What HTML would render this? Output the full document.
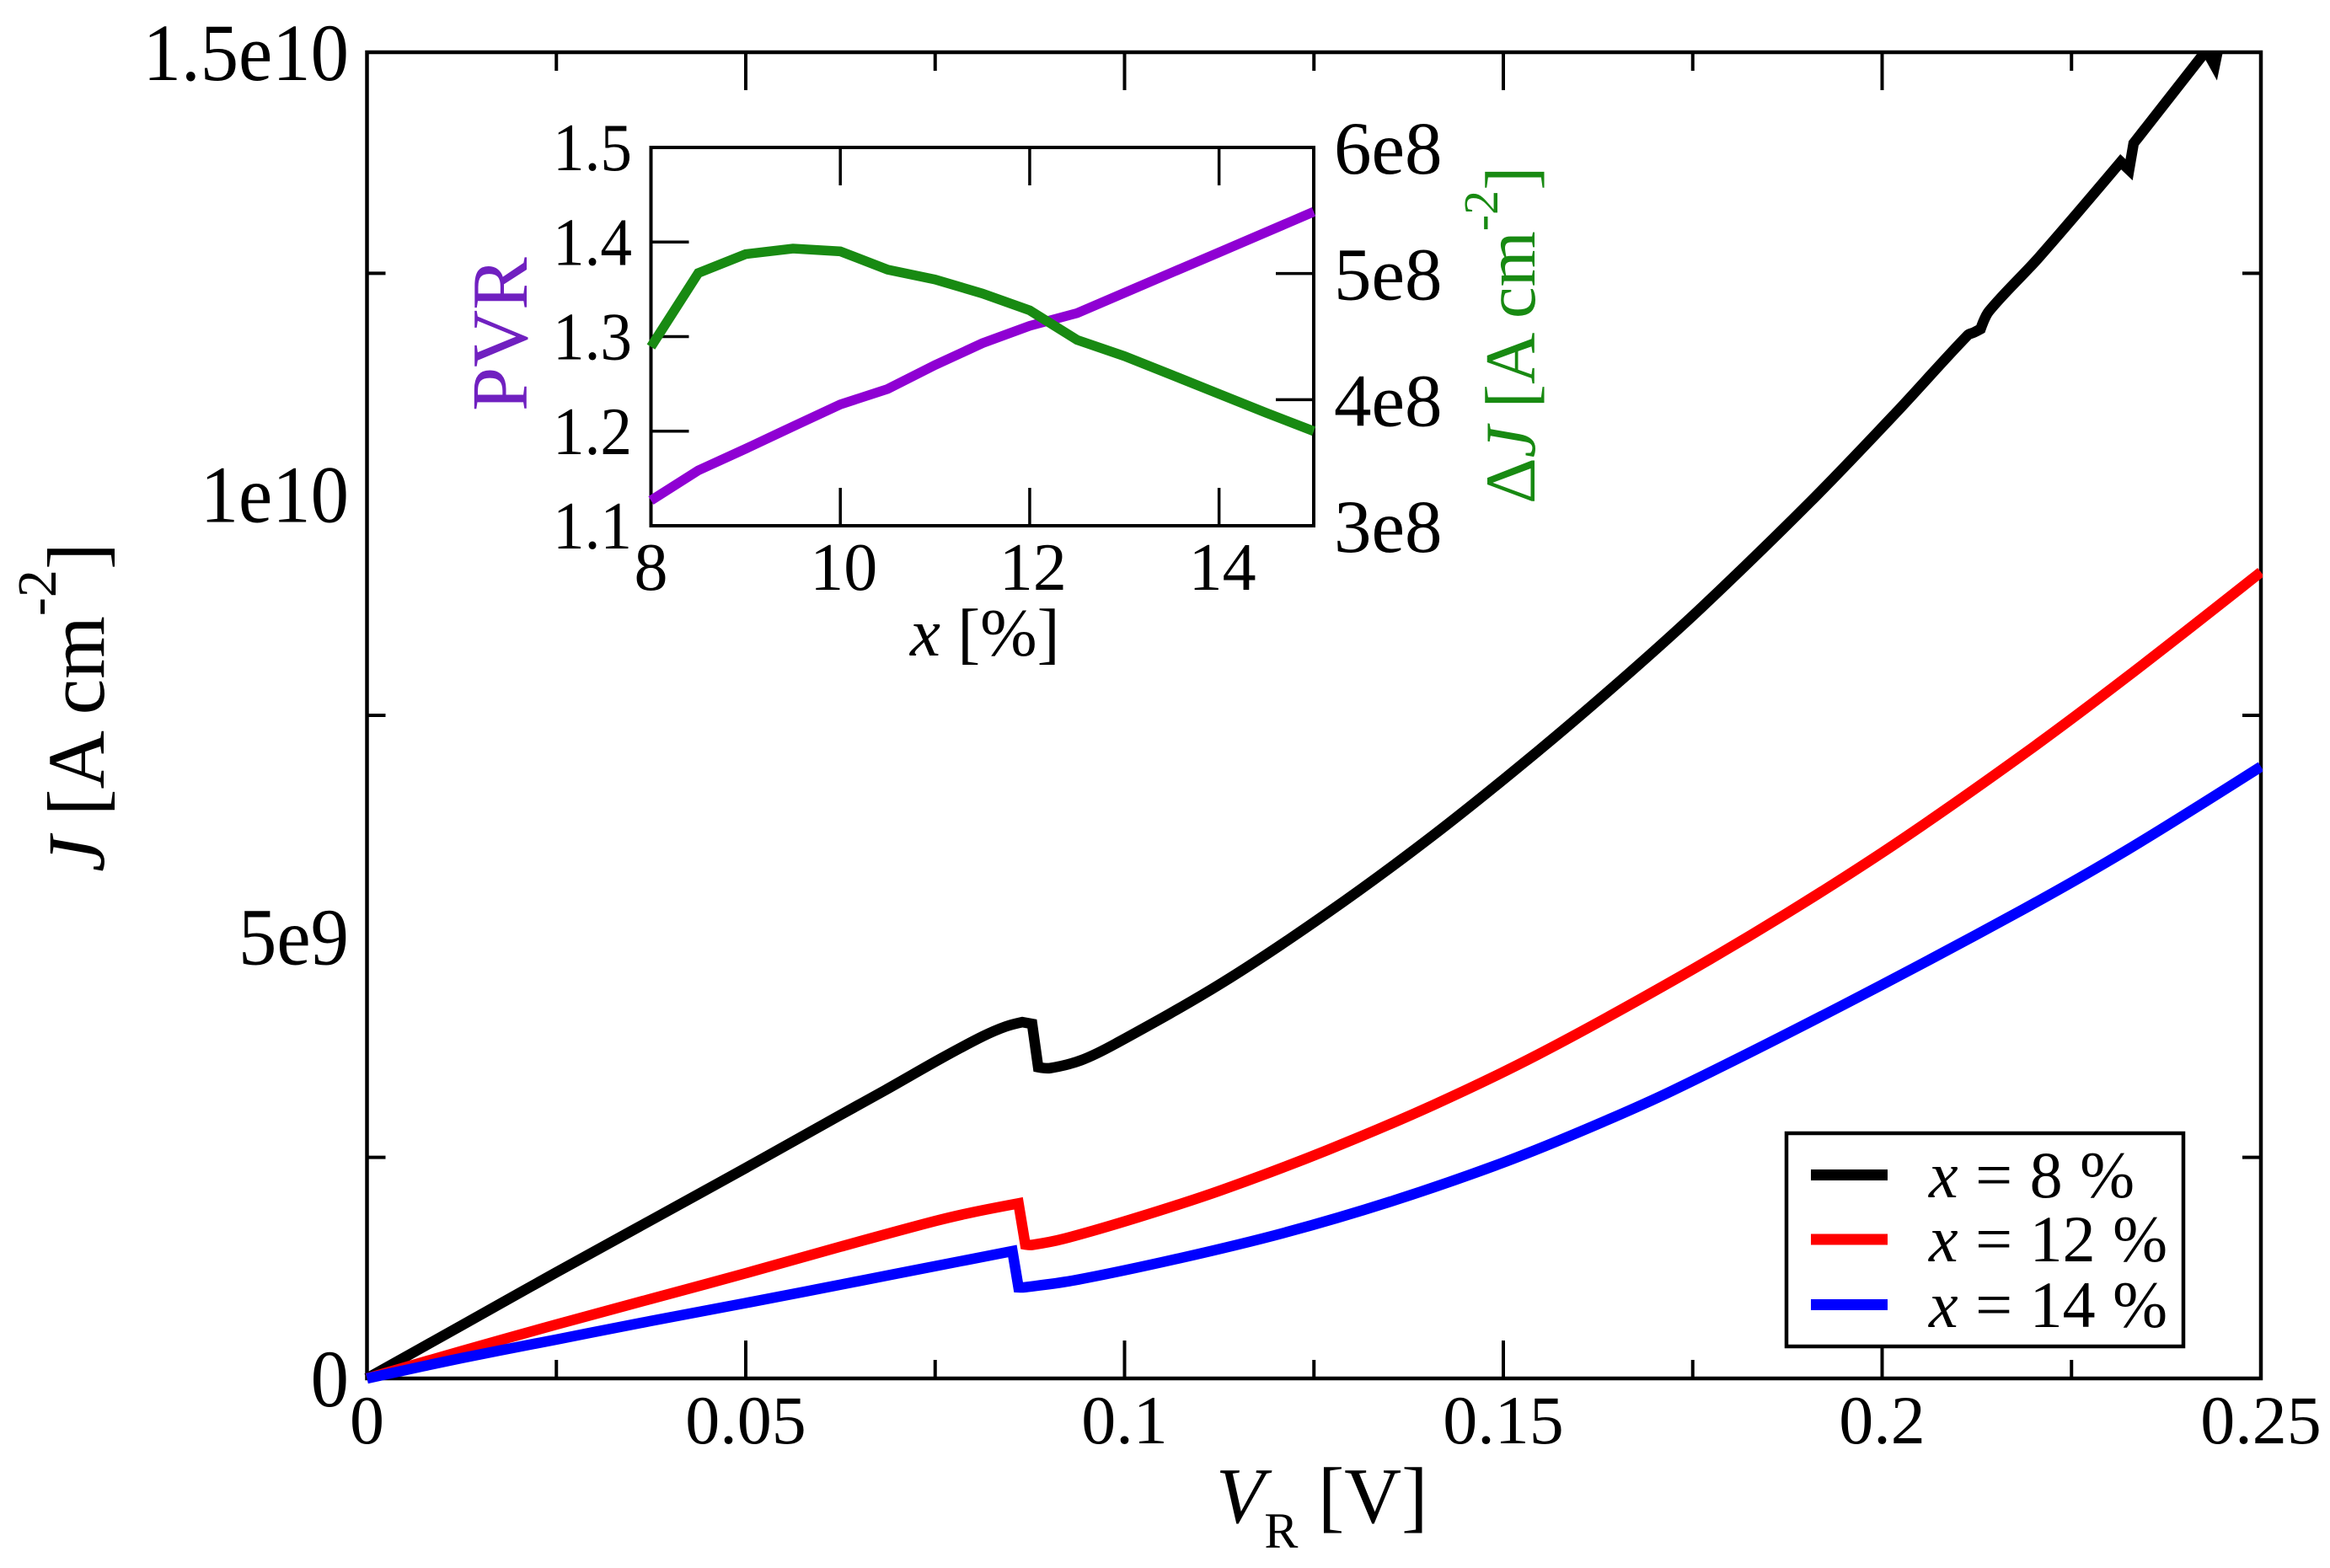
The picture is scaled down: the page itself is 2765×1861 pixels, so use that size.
<!DOCTYPE html>
<html lang="en">
<head>
<meta charset="utf-8">
<title>Current density versus voltage</title>
<style>
html,body{margin:0;padding:0;background:#fff;}
svg{display:block;}
text{font-family:"Liberation Serif",serif;fill:#000;}
</style>
</head>
<body>
<svg id="chart" xmlns="http://www.w3.org/2000/svg" width="2765" height="1861" viewBox="0 0 2765 1861">
  <defs>
    <clipPath id="main-clip"><rect x="400" y="60" width="2285" height="1620"/></clipPath>
  </defs>
  <rect x="0" y="0" width="2765" height="1861" fill="#ffffff"/>
  <g id="main-axes"></g>
  <g id="main-series" clip-path="url(#main-clip)"></g>
  <g id="inset-axes"></g>
  <g id="inset-series"></g>

  <text x="1443" y="1807" font-size="94"><tspan font-style="italic">V</tspan><tspan font-size="60" dy="30">R</tspan><tspan dy="-30"> [V]</tspan></text>
  <text transform="translate(123,1035) rotate(-90)" font-size="96"><tspan font-style="italic">J</tspan> [A cm<tspan font-size="66" dy="-57">-2</tspan><tspan dy="57">]</tspan></text>

  <text x="1080" y="778" font-size="81"><tspan font-style="italic">x</tspan> [%]</text>
  <text transform="translate(625,488) rotate(-90)" font-size="94" style="fill:#7020c0">PVR</text>
  <text transform="translate(1821,598) rotate(-90)" font-size="85" style="fill:#188a12">Δ<tspan font-style="italic">J</tspan> [A cm<tspan font-size="58" dy="-44">-2</tspan><tspan dy="44">]</tspan></text>

  <g>
    <rect x="2120" y="1345" width="471" height="253" fill="#ffffff" stroke="#000" stroke-width="4.5"/>
    <line x1="2149" x2="2240" y1="1394.5" y2="1394.5" stroke="#000" stroke-width="13"/>
    <line x1="2149" x2="2240" y1="1471" y2="1471" stroke="#ff0000" stroke-width="13"/>
    <line x1="2149" x2="2240" y1="1548.5" y2="1548.5" stroke="#0000ff" stroke-width="13"/>
    <text x="2289" y="1421" font-size="78" word-spacing="1"><tspan font-style="italic">x</tspan> = 8 %</text>
    <text x="2289" y="1497" font-size="78" word-spacing="1"><tspan font-style="italic">x</tspan> = 12 %</text>
    <text x="2289" y="1575" font-size="78" word-spacing="1"><tspan font-style="italic">x</tspan> = 14 %</text>
  </g>
</svg>

<script>
// Main chart data: voltage in V, current density in units of 1e9 A/cm^2
var xMajorTicks = [0, 0.05, 0.1, 0.15, 0.2, 0.25];
var xMajorLabels = ["0", "0.05", "0.1", "0.15", "0.2", "0.25"];
var xMinorTicks = [0.025, 0.075, 0.125, 0.175, 0.225];
var yLabelTicks = [0, 5, 10, 15];
var yMajorLabels = ["0", "5e9", "1e10", "1.5e10"];
var yMinorTicks = [2.5, 7.5, 12.5];

var blackV = [0, 0.0125, 0.025, 0.0375, 0.05, 0.0625, 0.0684, 0.0758, 0.0813, 0.0843, 0.0865, 0.0878, 0.0886, 0.0902, 0.0943, 0.0989, 0.1128, 0.1267, 0.1407, 0.1545, 0.1665, 0.1763, 0.1907, 0.2018, 0.2113, 0.2121, 0.2130, 0.2141, 0.2207, 0.2315, 0.2326, 0.2332, 0.2428, 0.2439, 0.2445];
var blackJ = [0, 0.60, 1.20, 1.79, 2.38, 2.98, 3.26, 3.62, 3.87, 3.98, 4.03, 4.01, 3.52, 3.51, 3.60, 3.79, 4.47, 5.26, 6.14, 7.09, 7.97, 8.73, 9.93, 10.92, 11.80, 11.83, 11.87, 12.07, 12.68, 13.76, 13.67, 13.97, 15.02, 14.85, 15.10];

var redV = [0, 0.0125, 0.025, 0.0375, 0.05, 0.0625, 0.075, 0.08, 0.086, 0.0869, 0.0878, 0.092, 0.1017, 0.1128, 0.1267, 0.1407, 0.1545, 0.1722, 0.1874, 0.2018, 0.2185, 0.2324, 0.25];
var redJ = [0, 0.31, 0.61, 0.90, 1.19, 1.49, 1.78, 1.88, 1.98, 1.515, 1.51, 1.58, 1.82, 2.13, 2.58, 3.09, 3.66, 4.49, 5.26, 6.05, 7.05, 7.94, 9.12];

var blueV = [0, 0.0125, 0.025, 0.0375, 0.05, 0.0625, 0.075, 0.0852, 0.086, 0.0867, 0.0934, 0.1073, 0.1212, 0.1351, 0.149, 0.1601, 0.1722, 0.195, 0.2185, 0.2324, 0.25];
var blueJ = [0, 0.23, 0.44, 0.65, 0.853, 1.06, 1.27, 1.44, 1.03, 1.03, 1.11, 1.36, 1.65, 2.00, 2.41, 2.79, 3.25, 4.23, 5.30, 5.98, 6.92];

// Inset data: x in %, PVR, Delta J in units of 1e8 A/cm^2
var insetX = [8, 8.5, 9, 9.5, 10, 10.5, 11, 11.5, 12, 12.5, 13, 13.5, 14, 14.5, 15];
var insetPvr = [1.1267, 1.1585, 1.1814, 1.205, 1.2283, 1.2446, 1.2699, 1.293, 1.3114, 1.3248, 1.3463, 1.3677, 1.389, 1.4105, 1.432];
var insetDeltaJ = [4.419, 5.004, 5.154, 5.198, 5.176, 5.031, 4.953, 4.842, 4.708, 4.474, 4.345, 4.196, 4.045, 3.895, 3.75];
var insetXTicks = [8, 10, 12, 14];
var insetXLabels = ["8", "10", "12", "14"];
var insetLeftTicks = [1.1, 1.2, 1.3, 1.4, 1.5];
var insetLeftLabels = ["1.1", "1.2", "1.3", "1.4", "1.5"];
var insetRightTicks = [3, 4, 5, 6];
var insetRightLabels = ["3e8", "4e8", "5e8", "6e8"];

var SVGNS = "http://www.w3.org/2000/svg";

// Axis functions
function mainX(v) { return 435.5 + (v / 0.25) * 2247.5; }
function mainY(j) { return 1636 - (j / 15) * 1574; }
function insetPx(x) { return 772.5 + ((x - 8) / 7) * 786.5; }
function insetPvrY(p) { return 624 - ((p - 1.1) / 0.4) * 449; }
function insetDjY(d) { return 624 - ((d - 3) / 3) * 449; }

function make(tag, attrs, parent) {
  var el = document.createElementNS(SVGNS, tag);
  for (var k in attrs) { el.setAttribute(k, attrs[k]); }
  parent.appendChild(el);
  return el;
}

function tickLine(parent, x1, y1, x2, y2, w) {
  return make("line", { x1: x1, y1: y1, x2: x2, y2: y2, stroke: "#000", "stroke-width": w }, parent);
}

function label(parent, str, x, y, size, anchor, sx) {
  var t = make("text", { transform: "translate(" + x + "," + y + ") scale(" + sx + ",1)", "font-size": size, "text-anchor": anchor }, parent);
  t.textContent = str;
  return t;
}

function polyPoints(xs, ys, fx, fy) {
  var out = [];
  for (var i = 0; i < xs.length; i++) {
    out.push(fx(xs[i]).toFixed(2) + "," + fy(ys[i]).toFixed(2));
  }
  return out.join(" ");
}

function curve(parent, xs, ys, fx, fy, color, w) {
  return make("polyline", { points: polyPoints(xs, ys, fx, fy), fill: "none", stroke: color, "stroke-width": w, "stroke-linejoin": "miter", "stroke-miterlimit": 6 }, parent);
}

// Smooth path through data points, keeping sharp corners at the sudden jumps
function smoothPath(xs, ys, fx, fy) {
  var pts = [];
  for (var i = 0; i < xs.length; i++) { pts.push([fx(xs[i]), fy(ys[i])]); }
  var dirs = pts.map(function (p, i) {
    if (i === 0 || i === pts.length - 1) { return null; }
    var a = [p[0] - pts[i - 1][0], p[1] - pts[i - 1][1]];
    var b = [pts[i + 1][0] - p[0], pts[i + 1][1] - p[1]];
    var la = Math.hypot(a[0], a[1]), lb = Math.hypot(b[0], b[1]);
    var cos = (a[0] * b[0] + a[1] * b[1]) / (la * lb);
    if (cos < Math.cos(25 * Math.PI / 180)) { return null; }
    var t = [pts[i + 1][0] - pts[i - 1][0], pts[i + 1][1] - pts[i - 1][1]];
    var lt = Math.hypot(t[0], t[1]);
    return [t[0] / lt, t[1] / lt];
  });
  var d = "M" + pts[0][0].toFixed(2) + " " + pts[0][1].toFixed(2);
  for (var j = 0; j < pts.length - 1; j++) {
    var p0 = pts[j], p1 = pts[j + 1];
    var len = Math.hypot(p1[0] - p0[0], p1[1] - p0[1]) / 3;
    var c0 = dirs[j] ? [p0[0] + dirs[j][0] * len, p0[1] + dirs[j][1] * len] : p0;
    var c1 = dirs[j + 1] ? [p1[0] - dirs[j + 1][0] * len, p1[1] - dirs[j + 1][1] * len] : p1;
    d += " C" + c0[0].toFixed(2) + " " + c0[1].toFixed(2) + " " + c1[0].toFixed(2) + " " + c1[1].toFixed(2) + " " + p1[0].toFixed(2) + " " + p1[1].toFixed(2);
  }
  return d;
}

function smoothCurve(parent, xs, ys, fx, fy, color, w) {
  return make("path", { d: smoothPath(xs, ys, fx, fy), fill: "none", stroke: color, "stroke-width": w, "stroke-linejoin": "miter", "stroke-miterlimit": 6 }, parent);
}

var mainAxes = document.getElementById("main-axes");
var mainSeries = document.getElementById("main-series");
var insetAxes = document.getElementById("inset-axes");
var insetSeries = document.getElementById("inset-series");

var frame = make("rect", { x: mainX(0), y: mainY(15), width: mainX(0.25) - mainX(0), height: mainY(0) - mainY(15), fill: "none", stroke: "#000", "stroke-width": 4.5 }, mainAxes);



xMajorTicks.forEach(function (v, i) {
  var b = tickLine(mainAxes, mainX(v), mainY(0), mainX(v), mainY(0) - 45, 4);
  
  
  var t = tickLine(mainAxes, mainX(v), mainY(15), mainX(v), mainY(15) + 45, 4);
  
  
  var l = label(mainAxes, xMajorLabels[i], mainX(v), 1713, 82, "middle", 1);
  
  
});
xMinorTicks.forEach(function (v) {
  var b = tickLine(mainAxes, mainX(v), mainY(0), mainX(v), mainY(0) - 22, 4);
  
  
  var t = tickLine(mainAxes, mainX(v), mainY(15), mainX(v), mainY(15) + 22, 4);
  
  
});
yLabelTicks.forEach(function (j, i) {
  var l = label(mainAxes, yMajorLabels[i], 414, mainY(j) + 33, 96, "end", 0.945);
  
  
});
yMinorTicks.forEach(function (j) {
  var a = tickLine(mainAxes, mainX(0), mainY(j), mainX(0) + 22, mainY(j), 4);
  
  
  var c = tickLine(mainAxes, mainX(0.25), mainY(j), mainX(0.25) - 22, mainY(j), 4);
  
  
});

var seriesBlack = smoothCurve(mainSeries, blackV, blackJ, mainX, mainY, "#000000", 12.5);


var seriesRed = smoothCurve(mainSeries, redV, redJ, mainX, mainY, "#ff0000", 12.5);


var seriesBlue = smoothCurve(mainSeries, blueV, blueJ, mainX, mainY, "#0000ff", 12.5);



var insetFrame = make("rect", { x: insetPx(8), y: insetPvrY(1.5), width: insetPx(15) - insetPx(8), height: insetPvrY(1.1) - insetPvrY(1.5), fill: "none", stroke: "#000", "stroke-width": 4 }, insetAxes);



insetXTicks.forEach(function (x, i) {
  if (i > 0) {
    var b = tickLine(insetAxes, insetPx(x), insetPvrY(1.1), insetPx(x), insetPvrY(1.1) - 45, 3.5);
    
    
    var t = tickLine(insetAxes, insetPx(x), insetPvrY(1.5), insetPx(x), insetPvrY(1.5) + 45, 3.5);
    
    
  }
  var l = label(insetAxes, insetXLabels[i], insetPx(x) + (i > 0 ? 4 : 0), 700, 80, "middle", 1);
  
  
});
insetLeftTicks.forEach(function (p, i) {
  if (i > 0 && i < insetLeftTicks.length - 1) {
    var a = tickLine(insetAxes, insetPx(8), insetPvrY(p), insetPx(8) + 45, insetPvrY(p), 3.5);
    
    
  }
  var l = label(insetAxes, insetLeftLabels[i], 750, insetPvrY(p) + 27, 80, "end", 0.94);
  
  
});
insetRightTicks.forEach(function (d, i) {
  if (i > 0 && i < insetRightTicks.length - 1) {
    var a = tickLine(insetAxes, insetPx(15), insetDjY(d), insetPx(15) - 45, insetDjY(d), 3.5);
    
    
  }
  var l = label(insetAxes, insetRightLabels[i], 1583, insetDjY(d) + 31, 89, "start", 1);
  
  
});

var seriesPvr = curve(insetSeries, insetX, insetPvr, insetPx, insetPvrY, "#8f00d3", 11.5);


var seriesDj = curve(insetSeries, insetX, insetDeltaJ, insetPx, insetDjY, "#188a12", 11.5);


</script>
</body>
</html>
